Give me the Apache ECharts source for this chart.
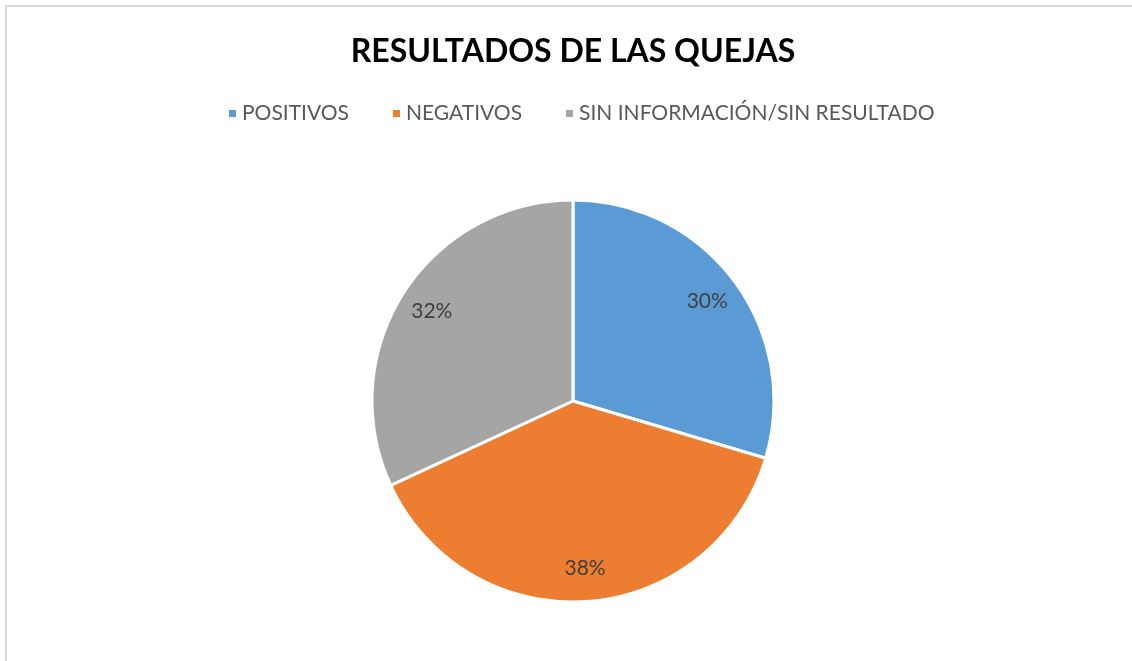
<!DOCTYPE html>
<html>
<head>
<meta charset="utf-8">
<script src="https://cdn.jsdelivr.net/npm/echarts@6/dist/echarts.min.js"></script>
<style>
	html,body{margin:0;padding:0;background:#fff;overflow:hidden;}
	#main{position:absolute;left:0;top:0;width:1146px;height:661px;}
	#frame{position:absolute;left:5px;top:5px;width:1140px;height:680px;border:2px solid #d9d9d9;pointer-events:none;}
</style>
</head>
<body>
<div id="main"></div>
<div id="frame"></div>
<script>
var categories = ["POSITIVOS", "NEGATIVOS", "SIN INFORMACIÓN/SIN RESULTADO"];
var values = [29.6, 38.5, 31.9];
var colors = ["#5B9BD5", "#ED7D31", "#A5A5A5"];

var pieData = [];
for (var i = 0; i < categories.length; i++) {
	pieData.push({name: categories[i], value: values[i]});
}

var myChart = echarts.init(document.getElementById('main'));
var option = {
	backgroundColor: 'transparent',
	color: colors,
	title: {
		text: 'RESULTADOS DE LAS QUEJAS',
		left: 'center',
		top: 31,
		textStyle: {
			fontFamily: 'Lato',
			fontWeight: 'bold',
			fontSize: 32,
			color: '#000'
		}
	},
	legend: {
		data: categories,
		top: 98,
		left: 222,
		icon: 'rect',
		itemWidth: 9,
		itemHeight: 9,
		itemGap: 42,
		textStyle: {
			fontFamily: 'Lato',
			fontSize: 21,
			color: '#595959'
		}
	},
	series: [
		{
			name: 'quejas',
			type: 'pie',
			center: [573, 401],
			radius: [0, 201],
			startAngle: 90,
			clockwise: true,
			percentPrecision: 0,
			itemStyle: {borderColor: '#fff', borderWidth: 3},
			label: {show: false},
			labelLine: {show: false},
			emphasis: {disabled: true},
			data: pieData
		},
		{
			name: 'etiquetas',
			type: 'pie',
			center: [573, 401],
			radius: [128, 201],
			startAngle: 90,
			clockwise: true,
			percentPrecision: 0,
			silent: true,
			itemStyle: {color: 'rgba(0,0,0,0)', borderWidth: 0},
			label: {
				show: true,
				position: 'inside',
				formatter: '{d}%',
				fontFamily: 'Lato',
				fontSize: 21,
				color: '#404040'
			},
			labelLine: {show: false},
			emphasis: {disabled: true},
			data: pieData
		}
	]
};
myChart.setOption(option);
</script>
</body>
</html>
